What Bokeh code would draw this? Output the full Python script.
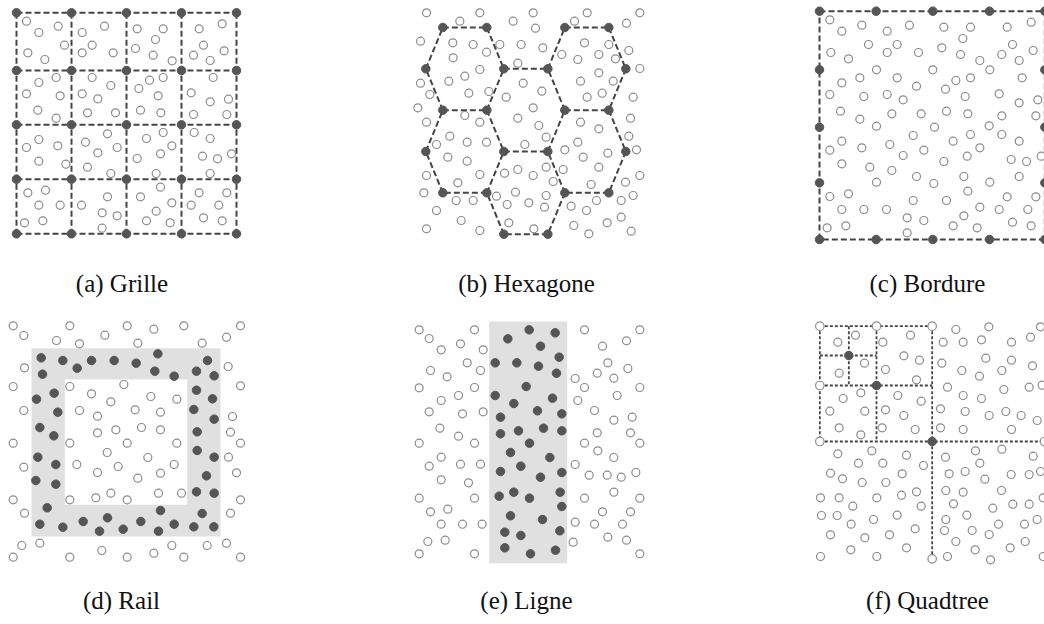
from bokeh.plotting import figure
from bokeh.models import Range1d
from bokeh.layouts import column, row
from bokeh.embed import file_html
from bokeh.resources import INLINE
from bokeh.core.properties import value

# ---------------- DATA (units: 1/3 px, relative to each panel's crop origin) ----------------
# (a) Grille
grid_x = [48, 213, 378, 543, 708]
grid_y = [37, 210, 373, 536, 700]
grille_pts = [
    (78, 62), (115, 96), (173, 77), (192, 134), (82, 157), (133, 177),
    (245, 96), (312, 77), (275, 134), (245, 157), (338, 157),
    (410, 85), (488, 85), (465, 117), (405, 144), (458, 164), (515, 181),
    (596, 85), (665, 70), (609, 134), (579, 164), (671, 151), (629, 180),
    (115, 246), (167, 231), (78, 280), (179, 286), (112, 329), (167, 353),
    (275, 231), (331, 255), (245, 280), (292, 295), (261, 337), (345, 337),
    (447, 239), (488, 231), (415, 264), (473, 286), (420, 329), (481, 337),
    (638, 231), (572, 277), (629, 304), (684, 296), (579, 342), (679, 342),
    (115, 417), (78, 441), (172, 436), (115, 482), (196, 491),
    (321, 400), (255, 425), (350, 441), (292, 457), (261, 500), (331, 519),
    (488, 396), (438, 414), (514, 436), (410, 474), (480, 460), (467, 519),
    (581, 396), (629, 414), (606, 467), (651, 475), (693, 460), (629, 519),
    (82, 577), (135, 569), (115, 614), (179, 614), (72, 667), (127, 661),
    (321, 589), (243, 614), (305, 637), (350, 646), (305, 683),
    (480, 560), (420, 589), (514, 607), (467, 632), (438, 661), (509, 667),
    (596, 577), (679, 577), (572, 614), (655, 614), (609, 652), (665, 661),
]

# (b) Hexagone
hex_cx = [193, 376, 559, 193, 376, 559]
hex_cy = [205, 329, 205, 453, 577, 453]
hex_R, hex_t, hex_H = 117, 66, 124
hexagone_pts = [
    (78, 37), (238, 37), (398, 37), (560, 37), (718, 37),
    (178, 62), (338, 62), (522, 62), (678, 68), (405, 83),
    (60, 122), (157, 127), (218, 132), (298, 132), (362, 132), (427, 142), (552, 127), (625, 132), (685, 150),
    (258, 155), (158, 172), (484, 162), (595, 162), (532, 177), (645, 175),
    (352, 188), (718, 204), (238, 207), (193, 227), (595, 217),
    (60, 248), (145, 242), (368, 248), (540, 242), (638, 242),
    (88, 282), (205, 278), (265, 273), (317, 290), (424, 272), (605, 278), (560, 290), (698, 290),
    (52, 322), (398, 322),
    (193, 345), (238, 365), (352, 353), (78, 365), (415, 375), (540, 365), (595, 385), (690, 353),
    (148, 407), (437, 410), (685, 407),
    (108, 432), (200, 425), (258, 425), (373, 432), (532, 425), (708, 448),
    (142, 470), (200, 482), (493, 448), (548, 470), (622, 458),
    (78, 525), (238, 522), (312, 518), (352, 507), (398, 525), (437, 500), (488, 507), (595, 500), (718, 525),
    (172, 547), (458, 543), (572, 552), (675, 545),
    (70, 577), (288, 587), (345, 575), (437, 585), (698, 585),
    (167, 600), (218, 600), (320, 612), (385, 607), (432, 620), (512, 617), (588, 600), (662, 600),
    (108, 630), (558, 630),
    (182, 660), (325, 667), (520, 675), (620, 667), (662, 650),
    (78, 685), (238, 690), (400, 685), (565, 700), (692, 692),
]

# (c) Bordure
border_x = [57, 227, 397, 567, 733]
border_y = [32, 208, 380, 547, 717]
bordure_pts = [
    (88, 58), (124, 92), (184, 74), (260, 92), (327, 74), (430, 80), (510, 80), (620, 80), (692, 65),
    (487, 114), (204, 132), (290, 132), (636, 132),
    (91, 156), (144, 175), (260, 156), (354, 156), (424, 142), (480, 162), (538, 180), (604, 162), (656, 180), (698, 150),
    (228, 208), (397, 208), (568, 208),
    (124, 247), (178, 232), (290, 232), (466, 240), (510, 232), (665, 232),
    (88, 282), (190, 288), (260, 282), (348, 257), (308, 298), (435, 266), (494, 288), (596, 280), (656, 307), (712, 298),
    (120, 332), (178, 356), (274, 340), (362, 340), (438, 332), (502, 340), (604, 346), (706, 346),
    (228, 377), (402, 380), (566, 376),
    (124, 422), (88, 449), (184, 442), (268, 432), (338, 405), (370, 449), (458, 422), (510, 402), (538, 442), (604, 402), (656, 422),
    (308, 465), (500, 467), (632, 477), (678, 483), (722, 467),
    (124, 490), (208, 500), (274, 510), (430, 483),
    (228, 545), (348, 528), (400, 549), (490, 528), (568, 545), (656, 528),
    (88, 588), (144, 580), (502, 572), (620, 589), (706, 589),
    (124, 627), (190, 627), (258, 627), (338, 600), (438, 600), (538, 620), (596, 627), (682, 627),
    (320, 652), (370, 660), (490, 646),
    (80, 682), (136, 676), (458, 676), (530, 682), (636, 665), (692, 676),
    (320, 697),
]

# (d) Rail
rail_outer = (93, 113, 660, 678)
rail_inner = (193, 207, 560, 583)
rail_in = [
    (122, 142), (187, 150), (230, 173), (273, 150), (341, 150), (407, 158), (472, 130), (463, 182),
    (521, 197), (588, 182), (621, 150), (641, 196),
    (126, 191), (161, 248), (108, 266), (172, 305), (118, 351), (160, 376), (112, 440), (166, 462),
    (106, 510), (166, 521),
    (588, 239), (636, 265), (580, 297), (641, 326), (590, 364), (590, 420), (641, 440), (618, 496),
    (588, 544), (641, 548),
    (140, 592), (118, 641), (187, 650), (248, 633), (297, 662), (321, 622), (368, 656), (421, 633),
    (474, 662), (480, 600), (521, 641), (580, 649), (605, 609), (640, 649),
]
rail_out = [
    (38, 46), (70, 75), (208, 46), (168, 90), (237, 100), (313, 74), (380, 46), (412, 98), (460, 56),
    (550, 46), (605, 98), (678, 80), (720, 46),
    (72, 172), (38, 228), (683, 168), (720, 226),
    (70, 300), (696, 318), (690, 365), (38, 398), (720, 398), (684, 440), (70, 470), (708, 487),
    (38, 568), (720, 568), (72, 608), (690, 608),
    (64, 705), (118, 698), (38, 740), (208, 740), (304, 720), (380, 740), (460, 728), (514, 705),
    (550, 740), (620, 705), (678, 698), (720, 740),
    (208, 228), (273, 250), (370, 222), (331, 274), (451, 258), (529, 266),
    (237, 300), (291, 317), (404, 298), (480, 305),
    (291, 367), (346, 358), (423, 351), (480, 358),
    (208, 398), (380, 398), (529, 398),
    (320, 426), (442, 441),
    (229, 462), (353, 468), (521, 462),
    (291, 486), (412, 503), (480, 488),
    (208, 568), (286, 562), (331, 548), (380, 568), (474, 548), (543, 548),
]

# (e) Ligne
ligne_band = (266, 33, 500, 758)
ligne_in = [
    (386, 58), (464, 67), (322, 85), (420, 107), (476, 140), (284, 157), (349, 157), (414, 167), (468, 188),
    (377, 228), (284, 255), (340, 279), (456, 263), (411, 301), (484, 310), (300, 320),
    (300, 370), (354, 361), (429, 353), (484, 361), (387, 398),
    (330, 426), (448, 441), (361, 467), (300, 483), (484, 486), (420, 500),
    (296, 557), (340, 545), (387, 563), (479, 545), (484, 588),
    (330, 616), (426, 627), (313, 665), (361, 675), (478, 661), (313, 712), (390, 730), (465, 719),
]
ligne_out = [
    (56, 58), (86, 84), (222, 58), (180, 100), (122, 118), (248, 118), (200, 157), (90, 180), (240, 180),
    (140, 199), (56, 232), (222, 231), (174, 255), (122, 270), (86, 304), (186, 310), (248, 304),
    (118, 353), (174, 377), (56, 398), (222, 398), (122, 440), (86, 467), (180, 461), (240, 461),
    (122, 508), (204, 517), (56, 563), (222, 563), (90, 604), (142, 596), (122, 641), (186, 641),
    (245, 641), (82, 693), (134, 689), (56, 730), (222, 730),
    (552, 58), (718, 58), (678, 91), (606, 107), (622, 157), (682, 174), (590, 188), (640, 203),
    (524, 204), (552, 231), (718, 231), (650, 255), (532, 270), (582, 300), (640, 329), (695, 320),
    (590, 367), (690, 367), (552, 398), (718, 398), (592, 421), (640, 441), (524, 462), (566, 494),
    (620, 494), (662, 500), (706, 486), (640, 545), (552, 563), (718, 563), (606, 604), (690, 604),
    (524, 635), (582, 641), (666, 641), (518, 695), (622, 680), (678, 689), (718, 730),
]

# (f) Quadtree
qt_split_x = [395, 228, 145]
qt_split_y = [393, 225, 135]
qt_x0 = [58, 58, 58]
qt_y0 = [47, 47, 47]
qt_x1 = [732, 395, 228]
qt_y1 = [745, 393, 225]
qt_open = [(58, 47), (228, 47), (395, 47), (58, 225), (58, 393), (732, 393), (395, 745)]
quadtree_pts = [
    (112, 95), (165, 74), (116, 188), (192, 158),
    (247, 95), (330, 74), (310, 136), (357, 149), (255, 177), (348, 208),
    (128, 264), (181, 247), (88, 302), (193, 302), (116, 352), (181, 373),
    (292, 255), (362, 272), (255, 298), (310, 315), (245, 352), (344, 357),
    (466, 57), (565, 49), (720, 49), (428, 95), (488, 95), (543, 88), (633, 95), (690, 80),
    (556, 143), (424, 158), (484, 180), (537, 197), (604, 180), (633, 149), (696, 166),
    (441, 230), (488, 255), (543, 264), (610, 237), (686, 230), (725, 224),
    (420, 295), (494, 303), (566, 315), (616, 303), (662, 315), (710, 330),
    (420, 352), (488, 357), (633, 357),
    (112, 430), (214, 421), (318, 434), (174, 458), (247, 458), (369, 465), (90, 488), (126, 505),
    (185, 516), (256, 516), (305, 490), (348, 544), (60, 562), (116, 562), (157, 587), (229, 562),
    (303, 554), (362, 587), (63, 615), (110, 615), (152, 641), (219, 627), (290, 614), (344, 655),
    (90, 673), (193, 682), (267, 673), (151, 718), (229, 738), (318, 712), (60, 738),
    (435, 440), (525, 421), (604, 416), (698, 437), (538, 458), (446, 490), (494, 483), (553, 506),
    (632, 492), (686, 492), (720, 483), (436, 540), (488, 545), (603, 540), (459, 580), (499, 614),
    (577, 593), (637, 581), (686, 581), (728, 562), (436, 627), (432, 660), (515, 660), (566, 672),
    (594, 641), (672, 641), (710, 627), (466, 693), (524, 718), (629, 712), (674, 693), (441, 738),
    (570, 748), (728, 738),
]

captions = ["(a) Grille", "(b) Hexagone", "(c) Bordure", "(d) Rail", "(e) Ligne", "(f) Quadtree"]

# ---------------- STYLE / LAYOUT ----------------
OPEN_C = "#8c8c8c"
FILL_C = "#555555"
LINE_C = "#444444"
REGION_C = "#e0e0e0"
S = 3.0
FONT = value("Liberation Serif")

# crop origins (page px) of each panel's measurement frame
origins = [(0, 0), (400, 0), (800, 0), (0, 310), (400, 310), (800, 310)]
# figure page extents (Bokeh's page template has no body margin)
cols = [(0, 348), (348, 696), (696, 1044)]
rows_ = [(0, 312), (312, 624)]
cap_pos = [(121.5, 283), (526, 283), (927, 283), (121, 600), (526, 600), (927, 600)]


def make_fig(i):
    ox, oy = origins[i]
    fx0, fx1 = cols[i % 3]
    fy0, fy1 = rows_[i // 3]
    p = figure(width=fx1 - fx0, height=fy1 - fy0, output_backend="svg", toolbar_location=None,
               x_range=Range1d((fx0 - ox) * S, (fx1 - ox) * S),
               y_range=Range1d((fy1 - oy) * S, (fy0 - oy) * S),
               x_axis_location=None, y_axis_location=None, min_border=0)
    p.grid.visible = False
    p.outline_line_color = None
    p.background_fill_color = "white"
    p.border_fill_color = "white"
    cx, cy = cap_pos[i]
    p.text(x=[(cx - ox) * S], y=[(cy - oy) * S], text=[captions[i]], text_font=FONT,
           text_font_size="25px", text_align="center", text_baseline="middle", text_color="#111111")
    return p


def open_pts(p, pts, size=8):
    xs, ys = zip(*pts)
    p.scatter(list(xs), list(ys), marker="circle", size=size, fill_color="white",
              line_color=OPEN_C, line_width=1.2)


def filled_pts(p, pts, size=8.5):
    xs, ys = zip(*pts)
    p.scatter(list(xs), list(ys), marker="circle", size=size, fill_color=FILL_C,
              line_color=FILL_C, line_width=1)


def segs(p, seglist, dash="6 3", width=2.0):
    xs = [[a[0], b[0]] for a, b in seglist]
    ys = [[a[1], b[1]] for a, b in seglist]
    p.multi_line(xs, ys, line_color=LINE_C, line_width=width, line_dash=dash)


figs = [make_fig(i) for i in range(6)]

# (a) grid
p = figs[0]
g_segs = [((x, grid_y[0]), (x, grid_y[-1])) for x in grid_x] + \
         [((grid_x[0], y), (grid_x[-1], y)) for y in grid_y]
segs(p, g_segs)
open_pts(p, grille_pts)
filled_pts(p, [(x, y) for x in grid_x for y in grid_y])

# (b) hexagons
p = figs[1]
offs = [(-hex_R, 0), (-hex_t, -hex_H), (hex_t, -hex_H), (hex_R, 0), (hex_t, hex_H), (-hex_t, hex_H)]
edges = {}
verts = {}
for cx, cy in zip(hex_cx, hex_cy):
    vs = [(cx + dx, cy + dy) for dx, dy in offs]
    for k in range(6):
        a, b = vs[k], vs[(k + 1) % 6]
        key = tuple(sorted([a, b]))
        edges[key] = (a, b)
        verts[a] = True
segs(p, list(edges.values()))
open_pts(p, hexagone_pts)
filled_pts(p, list(verts.keys()))

# (c) border
p = figs[2]
bx0, bx1, by0, by1 = border_x[0], border_x[-1], border_y[0], border_y[-1]
segs(p, [((bx0, by0), (bx1, by0)), ((bx1, by0), (bx1, by1)), ((bx1, by1), (bx0, by1)), ((bx0, by1), (bx0, by0))])
open_pts(p, bordure_pts)
perim = [(x, by0) for x in border_x] + [(x, by1) for x in border_x] + \
        [(bx0, y) for y in border_y[1:-1]] + [(bx1, y) for y in border_y[1:-1]]
filled_pts(p, perim)

# (d) rail
p = figs[3]
ox0, oy0, ox1, oy1 = rail_outer
ix0, iy0, ix1, iy1 = rail_inner
p.quad(left=[ox0], right=[ox1], top=[oy0], bottom=[oy1], fill_color=REGION_C, line_color=None)
p.quad(left=[ix0], right=[ix1], top=[iy0], bottom=[iy1], fill_color="white", line_color=None)
open_pts(p, rail_out)
filled_pts(p, rail_in)

# (e) ligne
p = figs[4]
lx0, ly0, lx1, ly1 = ligne_band
p.quad(left=[lx0], right=[lx1], top=[ly0], bottom=[ly1], fill_color=REGION_C, line_color=None)
open_pts(p, ligne_out)
filled_pts(p, ligne_in)

# (f) quadtree
p = figs[5]
q_segs = []
for sx, sy, x0, y0, x1, y1 in zip(qt_split_x, qt_split_y, qt_x0, qt_y0, qt_x1, qt_y1):
    q_segs.append(((sx, y0), (sx, y1)))
    q_segs.append(((x0, sy), (x1, sy)))
# border of the subdivided quadrant (top and left edges)
q_segs.append(((qt_x0[1], qt_y0[1]), (qt_x1[1], qt_y0[1])))
q_segs.append(((qt_x0[1], qt_y0[1]), (qt_x0[1], qt_y1[1])))
segs(p, q_segs, dash="3 2", width=1.8)
open_pts(p, quadtree_pts)
open_pts(p, qt_open, size=8.5)
filled_pts(p, list(zip(qt_split_x, qt_split_y)))

layout = column(row(*figs[:3], spacing=0), row(*figs[3:], spacing=0), spacing=0)
open("out.html", "w").write(file_html(layout, INLINE))
